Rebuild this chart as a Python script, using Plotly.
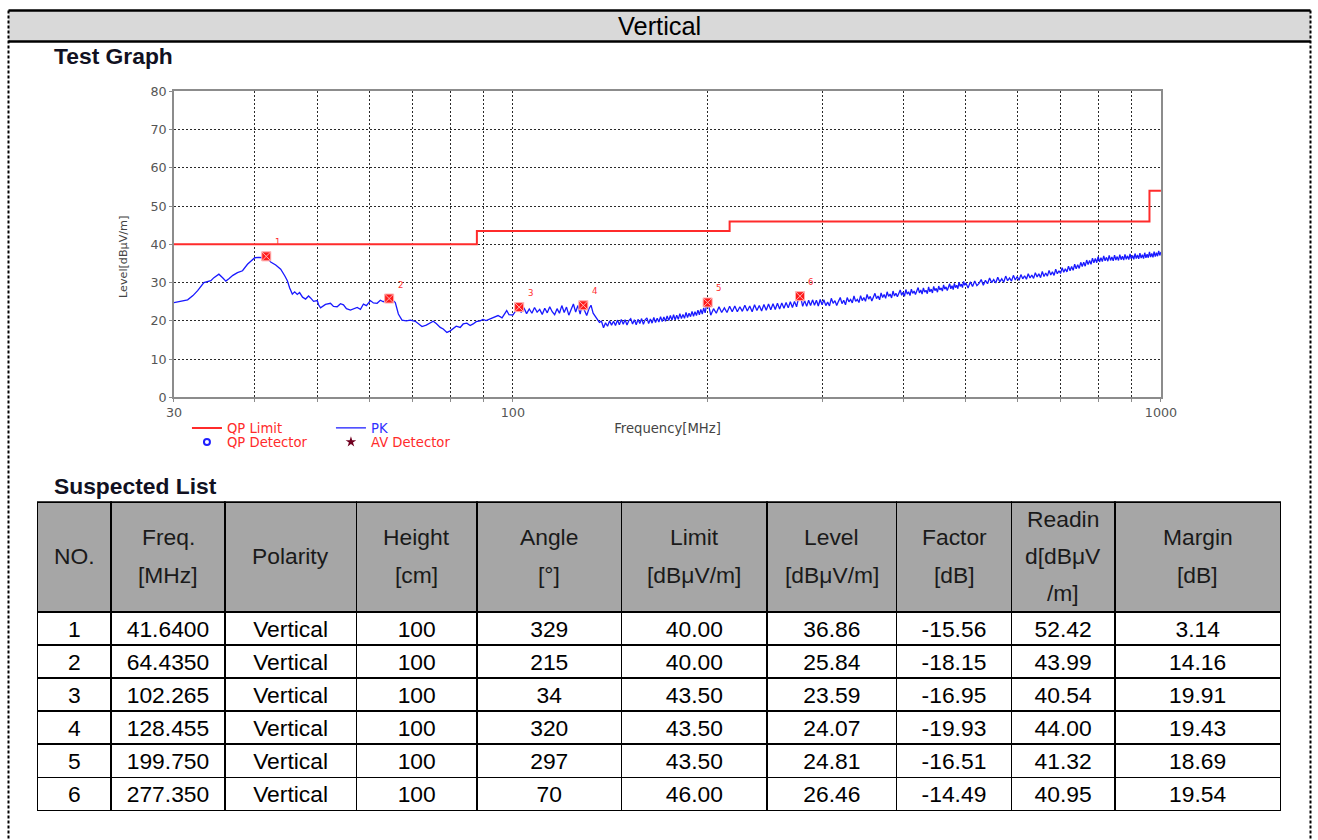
import math
import plotly.graph_objects as go

# ---------------- page geometry ----------------
# Positions below are written in page pixels; the renderer maps figure px -> page px
# as page = 6.5 + 0.985 * fig, so every page position is converted back.
S = 0.985
P0 = 6.5
W = 1332
H = 847

def fx(px):
    return ((px - P0) / S) / W

def fy(py):
    return 1 - ((py - P0) / S) / H

def fs(size):
    return size / S

# ---------------- data ----------------
# QP limit (step line)
limit_freq = [30, 88, 216, 960, 1000]
limit_level = [40.0, 43.5, 46.0, 54.0, 54.0]

# PK sweep
pk_freq = [
    30.0, 30.75, 31.49, 32.09, 32.63, 33.36, 34.2, 34.57, 35.19, 35.69, 36.07, 36.46, 36.98,
    37.59, 38.27, 38.95, 39.41, 39.97, 40.54, 41.27, 41.64, 42.3, 43.06, 43.83, 44.46, 44.88,
    45.25, 45.68, 46.06, 46.49, 46.87, 47.37, 47.88, 48.39, 48.74, 49.26, 49.91, 50.14, 50.5,
    51.39, 52.31, 52.87, 53.57, 54.2, 54.78, 55.36, 56.16, 56.76, 57.51, 58.19, 58.81, 59.43,
    60.28, 60.92, 61.73, 62.45, 63.12, 63.95, 64.44, 65.17, 65.86, 66.58, 67.44, 68.49, 69.46,
    70.71, 71.46, 72.41, 73.52, 74.57, 75.36, 76.16, 77.26, 78.08, 79.11, 80.05, 80.9, 81.77,
    82.94, 83.82, 84.92, 85.92, 86.84, 87.77, 89.01, 89.96, 90.93, 92.22, 93.54, 94.87, 96.22,
    97.84, 98.63,
    100, 101, 102, 103, 104, 105, 106, 107, 108, 109, 110, 111, 112, 113, 114, 115, 116, 117,
    118, 119, 120, 121, 122, 123, 124, 125, 126, 127, 128, 129, 130, 131, 132, 133, 134, 135,
    136, 137, 138, 139, 140, 141, 142, 143, 144, 145, 146, 147, 148, 149, 150, 151, 152, 153,
    154, 155, 156, 157, 158, 159, 160, 161, 162, 163, 164, 165, 166, 167, 168, 169, 170, 171,
    172, 173, 174, 175, 176, 177, 178, 179, 180, 181, 182, 183, 184, 185, 186, 187, 188, 189,
    190, 191, 192, 193, 194, 195, 196, 197, 198, 199, 200,
    202, 204, 206, 208, 210, 212, 214, 216, 218, 220, 222, 224, 226, 228, 230, 232, 234, 236,
    238, 240, 242, 244, 246, 248, 250, 252, 254, 256, 258, 260, 262, 264, 266, 268, 270, 272,
    274, 276, 278, 280, 282, 284, 286, 288, 290, 292, 294, 296, 298, 300,
    302, 304, 306, 308, 310, 312, 314, 316, 318, 320,
    322, 324, 326, 328, 330, 332, 334, 336, 338, 340,
    342, 344, 346, 348, 350, 352, 354, 356, 358, 360,
    362, 364, 366, 368, 370, 372, 374, 376, 378, 380,
    382, 384, 386, 388, 390, 392, 394, 396, 398, 400,
    402, 404, 406, 408, 410, 412, 414, 416, 418, 420,
    422, 424, 426, 428, 430, 432, 434, 436, 438, 440,
    442, 444, 446, 448, 450, 452, 454, 456, 458, 460,
    462, 464, 466, 468, 470, 472, 474, 476, 478, 480,
    482, 484, 486, 488, 490, 492, 494, 496, 498, 500,
    504, 508, 512, 516, 520, 524, 528, 532, 536, 540,
    544, 548, 552, 556, 560, 564, 568, 572, 576, 580,
    584, 588, 592, 596, 600, 604, 608, 612, 616, 620,
    624, 628, 632, 636, 640, 644, 648, 652, 656, 660,
    664, 668, 672, 676, 680, 684, 688, 692, 696, 700,
    704, 708, 712, 716, 720, 724, 728, 732, 736, 740,
    744, 748, 752, 756, 760, 764, 768, 772, 776, 780,
    784, 788, 792, 796, 800, 804, 808, 812, 816, 820,
    824, 828, 832, 836, 840, 844, 848, 852, 856, 860,
    864, 868, 872, 876, 880, 884, 888, 892, 896, 900,
    904, 908, 912, 916, 920, 924, 928, 932, 936, 940,
    944, 948, 952, 956, 960, 964, 968, 972, 976, 980,
    984, 988, 992, 996, 1000,
]
pk_level = [
    24.8, 25.2, 25.5, 26.6, 27.9, 30.0, 30.5, 31.3, 32.2, 31.2, 30.4, 31.0, 31.9,
    32.6, 33.1, 34.8, 35.6, 36.5, 36.6, 36.5, 36.8, 35.4, 34.6, 33.5, 31.8, 30.5,
    28.6, 27.0, 27.6, 26.9, 27.4, 26.2, 25.7, 26.5, 26.0, 25.1, 25.3, 24.2, 23.4,
    24.3, 24.6, 23.8, 23.7, 24.5, 24.2, 23.2, 22.8, 23.1, 23.5, 23.0, 24.4, 24.0,
    25.3, 24.7, 24.6, 25.4, 25.0, 25.7, 25.8, 25.5, 24.8, 21.8, 20.2, 20.0, 20.2,
    19.9, 19.3, 18.5, 18.9, 19.4, 19.9, 19.3, 18.3, 17.9, 17.0, 17.4, 17.9, 18.6,
    18.3, 19.2, 19.4, 18.8, 19.2, 19.8, 20.0, 20.4, 20.1, 20.5, 20.9, 21.4, 20.8,
    22.7, 21.6,
    21.5, 22.6, 23.6, 22.2, 23.4, 21.9, 23.1, 22.0, 23.5, 22.3, 23.0, 21.7, 23.3, 22.1, 23.7, 22.4, 21.6, 23.2,
    22.0, 24.0, 22.2, 23.6, 21.5, 23.0, 24.4, 22.3, 24.0, 21.8, 24.5, 22.7, 21.4, 23.1, 24.1, 22.0, 21.2, 20.6,
    19.6, 19.9, 18.2, 19.5, 18.6, 20.0, 18.9, 19.9, 18.8, 20.2, 19.0, 20.4, 19.1, 20.3, 18.9, 20.1, 20.6, 19.2,
    20.3, 19.0, 20.4, 19.3, 20.6, 19.1, 20.3, 20.8, 19.3, 20.5, 19.4, 20.9, 19.6, 20.7, 19.7, 21.1, 19.8, 21.0,
    19.9, 21.3, 20.1, 21.4, 20.2, 21.6, 20.3, 21.5, 20.4, 21.9, 20.6, 21.7, 20.7, 22.2, 20.9, 22.0, 21.1, 22.5,
    21.2, 22.4, 21.4, 22.8, 21.6, 23.0, 21.8, 23.4, 22.1, 24.2, 24.9,
    21.5, 23.2, 22.0, 23.7, 22.2, 23.4, 22.2, 23.8, 22.4, 23.9, 22.4, 23.7, 22.5, 24.1, 22.6, 23.9, 22.4, 24.2,
    22.7, 24.0, 22.6, 24.3, 22.8, 24.4, 22.9, 24.5, 23.0, 24.6, 23.1, 24.7, 23.3, 24.8, 23.4, 25.0, 23.5, 25.1,
    23.7, 26.0, 26.3, 23.8, 25.3, 23.8, 25.4, 24.0, 25.5, 24.1, 25.4, 23.9, 25.6, 24.2,
    25.5, 24.0, 24.9, 23.9, 25.9, 24.6, 25.3, 24.0, 25.1, 26.1,
    24.5, 25.4, 24.2, 26.1, 25.0, 25.6, 24.7, 26.5, 25.1, 25.6,
    24.8, 26.6, 25.3, 26.1, 25.1, 26.9, 25.7, 26.4, 25.2, 26.3,
    27.2, 25.8, 26.5, 25.5, 27.3, 26.1, 26.9, 25.9, 27.6, 26.4,
    27.0, 26.0, 27.8, 26.5, 27.2, 26.3, 27.4, 28.1, 26.7, 27.5,
    26.4, 28.2, 27.0, 27.6, 26.6, 28.3, 27.2, 27.8, 26.9, 28.0,
    28.7, 27.3, 28.1, 27.0, 28.6, 27.5, 28.0, 27.1, 28.9, 27.6,
    28.3, 27.3, 29.0, 27.9, 28.5, 27.5, 29.1, 28.1, 28.6, 27.8,
    29.4, 28.3, 28.9, 27.9, 29.0, 29.7, 28.4, 29.2, 28.2, 29.8,
    28.7, 29.3, 28.4, 30.1, 29.0, 29.6, 28.7, 30.3, 29.3, 29.9,
    28.6, 30.2, 29.0, 30.4, 29.2, 29.8, 30.8, 29.3, 30.6, 29.7,
    31.2, 30.0, 30.8, 29.9, 31.4, 30.2, 31.0, 30.1, 31.7, 30.5,
    31.2, 30.4, 31.9, 30.7, 31.6, 30.6, 32.1, 31.0, 31.8, 30.9,
    32.3, 31.2, 32.0, 31.1, 32.6, 31.5, 32.3, 31.3, 32.9, 31.6,
    32.5, 31.7, 33.2, 32.0, 32.8, 31.9, 33.5, 32.3, 33.1, 32.4,
    33.9, 32.7, 33.6, 32.8, 34.3, 33.1, 34.2, 33.2, 34.8, 33.6,
    34.7, 33.7, 35.3, 34.2, 35.3, 34.3, 35.9, 34.7, 35.8, 34.8,
    36.4, 35.2, 36.3, 35.2, 36.8, 35.4, 36.5, 35.5, 37.0, 35.7,
    36.6, 35.6, 37.1, 35.8, 36.7, 35.7, 37.2, 35.9, 36.8, 35.8,
    37.3, 36.0, 36.9, 35.9, 37.4, 36.1, 37.0, 36.0, 37.5, 36.2,
    37.1, 36.1, 37.6, 36.3, 37.2, 36.2, 37.7, 36.4, 37.3, 36.3,
    37.8, 36.5, 37.4, 36.5, 38.0, 36.7, 37.6, 36.6, 38.1, 36.8,
    37.8, 36.9, 38.3, 37.1, 38.0,
]

# Suspected list
no_list = ["1", "2", "3", "4", "5", "6"]
freq_mhz = ["41.6400", "64.4350", "102.265", "128.455", "199.750", "277.350"]
polarity = ["Vertical", "Vertical", "Vertical", "Vertical", "Vertical", "Vertical"]
height_cm = ["100", "100", "100", "100", "100", "100"]
angle_deg = ["329", "215", "34", "320", "297", "70"]
limit_db = ["40.00", "40.00", "43.50", "43.50", "43.50", "46.00"]
level_db = ["36.86", "25.84", "23.59", "24.07", "24.81", "26.46"]
factor_db = ["-15.56", "-18.15", "-16.95", "-19.93", "-16.51", "-14.49"]
reading_db = ["52.42", "43.99", "40.54", "44.00", "41.32", "40.95"]
margin_db = ["3.14", "14.16", "19.91", "19.43", "18.69", "19.54"]

header_lines = [
    ["NO."], ["Freq.", "[MHz]"], ["Polarity"], ["Height", "[cm]"], ["Angle", "[°]"],
    ["Limit", "[dBμV/m]"], ["Level", "[dBμV/m]"], ["Factor", "[dB]"],
    ["Readin", "d[dBμV", "/m]"], ["Margin", "[dB]"],
]

x_tickvals = [30, 40, 50, 60, 70, 80, 90, 100, 200, 300, 400, 500, 600, 700, 800, 900, 1000]
x_ticktext = ["30", "", "", "", "", "", "", "100", "", "", "", "", "", "", "", "", "1000"]

PAGE_FONT = "Liberation Sans, Arial, sans-serif"
CHART_FONT = "DejaVu Sans, Arial, sans-serif"

col_edges = [36, 110, 224, 356, 477, 622, 768, 898, 1013, 1117, 1283]
col_widths = [col_edges[i + 1] - col_edges[i] for i in range(len(col_edges) - 1)]

fig = go.Figure()

# ---------------- chart traces ----------------
fig.add_trace(go.Scatter(
    x=limit_freq, y=limit_level, mode="lines", line_shape="hv",
    line=dict(color="#ff2b2b", width=2),
    name="QP Limit", legend="legend", hoverinfo="skip",
))
fig.add_trace(go.Scatter(
    x=pk_freq, y=pk_level, mode="lines",
    line=dict(color="rgb(25,25,255)", width=1.3),
    name='<span style="color:#3030ff">PK</span>', legend="legend",
))
fig.add_trace(go.Scatter(
    x=[None], y=[None], mode="markers",
    marker=dict(symbol="circle-open", color="#2020ff", size=6, line=dict(width=2)),
    name="QP Detector", legend="legend2",
))
fig.add_trace(go.Scatter(
    x=[None], y=[None], mode="markers",
    marker=dict(symbol="star", color="#700020", size=8),
    name="AV Detector", legend="legend2",
))
mk_freq = [float(v) for v in freq_mhz]
mk_level = [float(v) for v in level_db]
fig.add_trace(go.Scatter(
    x=mk_freq, y=mk_level, mode="markers", showlegend=False,
    marker=dict(symbol="square-x", color="#ff1a1a", size=9,
                line=dict(color="#ffb0b0", width=1)),
    name="Suspected",
))

annotations = []
for n, f, lv in zip(no_list, mk_freq, mk_level):
    annotations.append(dict(
        x=math.log10(f), y=lv, xref="x", yref="y", text=n, showarrow=False,
        xshift=11, yshift=14, font=dict(family=CHART_FONT, size=fs(8.5), color="#ff3030"),
    ))

annotations.append(dict(
    x=fx(123), y=fy(256), xref="paper", yref="paper", text="Level[dBμV/m]",
    showarrow=False, textangle=-90, xanchor="center", yanchor="middle",
    font=dict(family=CHART_FONT, size=fs(11), color="#444444"),
))

# ---------------- table ----------------
fig.add_trace(go.Table(
    domain=dict(x=[fx(col_edges[0]), fx(col_edges[-1])], y=[fy(812), fy(502)]),
    columnwidth=col_widths,
    header=dict(
        values=["" for _ in header_lines],
        fill_color="#a6a6a6", line=dict(color="black", width=fs(1.5)), height=108 / S,
    ),
    cells=dict(
        values=[no_list, freq_mhz, polarity, height_cm, angle_deg, limit_db,
                level_db, factor_db, reading_db, margin_db],
        fill_color="white", line=dict(color="black", width=fs(1.5)), height=32.6 / S,
        align="center", font=dict(family=PAGE_FONT, size=fs(22.5), color="black"),
    ),
))

hdr_center = 556
hdr_gap = 37.5
for i, lines in enumerate(header_lines):
    cx = (col_edges[i] + col_edges[i + 1]) / 2
    n = len(lines)
    for j, t in enumerate(lines):
        py = hdr_center + (j - (n - 1) / 2) * hdr_gap
        annotations.append(dict(
            x=fx(cx), y=fy(py), xref="paper", yref="paper", text=t, showarrow=False,
            xanchor="center", yanchor="middle",
            font=dict(family=PAGE_FONT, size=fs(22.5), color="#1a1a1a"),
        ))

# ---------------- page text ----------------
annotations += [
    dict(x=fx(660), y=fy(25), xref="paper", yref="paper", text="Vertical", showarrow=False,
         xanchor="center", yanchor="middle", font=dict(family=PAGE_FONT, size=fs(25), color="black")),
    dict(x=fx(51), y=fy(55), xref="paper", yref="paper", text="<b>Test Graph</b>", showarrow=False,
         xanchor="left", yanchor="middle", font=dict(family=PAGE_FONT, size=fs(22.5), color="#111122")),
    dict(x=fx(51), y=fy(486), xref="paper", yref="paper", text="<b>Suspected List</b>", showarrow=False,
         xanchor="left", yanchor="middle", font=dict(family=PAGE_FONT, size=fs(22.5), color="#111122")),
]

shapes = [
    dict(type="rect", xref="paper", yref="paper", x0=fx(7), x1=fx(1313), y0=fy(40), y1=fy(9),
         fillcolor="#d9d9d9", line=dict(width=0), layer="below"),
    dict(type="line", xref="paper", yref="paper", x0=fx(7), x1=fx(1313), y0=fy(9), y1=fy(9),
         line=dict(color="black", width=2.5)),
    dict(type="line", xref="paper", yref="paper", x0=fx(7), x1=fx(1313), y0=fy(40), y1=fy(40),
         line=dict(color="black", width=2.5)),
    dict(type="line", xref="paper", yref="paper", x0=fx(7), x1=fx(7), y0=fy(9), y1=fy(840),
         line=dict(color="black", width=2, dash="3px,2px")),
    dict(type="line", xref="paper", yref="paper", x0=fx(1313), x1=fx(1313), y0=fy(9), y1=fy(840),
         line=dict(color="black", width=2, dash="3px,2px")),
]

axis_common = dict(
    showgrid=True, gridcolor="#2a2a2a", gridwidth=1, griddash="2px,2px",
    showline=True, linecolor="#8c8c8c", linewidth=1.5, mirror=True,
    ticks="outside", ticklen=3, tickcolor="#8c8c8c", zeroline=False,
    tickfont=dict(family=CHART_FONT, size=fs(12.5), color="#555555"),
)

fig.update_layout(
    width=W, height=H, autosize=False,
    margin=dict(l=0, r=0, t=0, b=0),
    paper_bgcolor="white", plot_bgcolor="white",
    xaxis=dict(
        type="log", range=[math.log10(30), math.log10(1000)],
        domain=[fx(173), fx(1163)],
        tickvals=x_tickvals, ticktext=x_ticktext,
        title=dict(text="Frequency[MHz]", standoff=4,
                   font=dict(family=CHART_FONT, size=fs(13), color="#444444")),
        **axis_common,
    ),
    yaxis=dict(
        range=[0, 80], tick0=0, dtick=10,
        domain=[fy(397), fy(90)],
        **axis_common,
    ),
    legend=dict(
        orientation="h", x=fx(186), xanchor="left", y=fy(428), yanchor="middle",
        entrywidth=99, entrywidthmode="pixels", itemwidth=30,
        bgcolor="rgba(0,0,0,0)", font=dict(family=CHART_FONT, size=fs(13), color="#ff2b2b"),
    ),
    legend2=dict(
        orientation="h", x=fx(186), xanchor="left", y=fy(442), yanchor="middle",
        entrywidth=99, entrywidthmode="pixels", itemwidth=30,
        bgcolor="rgba(0,0,0,0)", font=dict(family=CHART_FONT, size=fs(13), color="#ff2b2b"),
    ),
    annotations=annotations,
    shapes=shapes,
    showlegend=True,
)

fig.write_html(
    "out.html",
    config={"displayModeBar": False},
    post_script="document.body.style.margin='0px';",
)
